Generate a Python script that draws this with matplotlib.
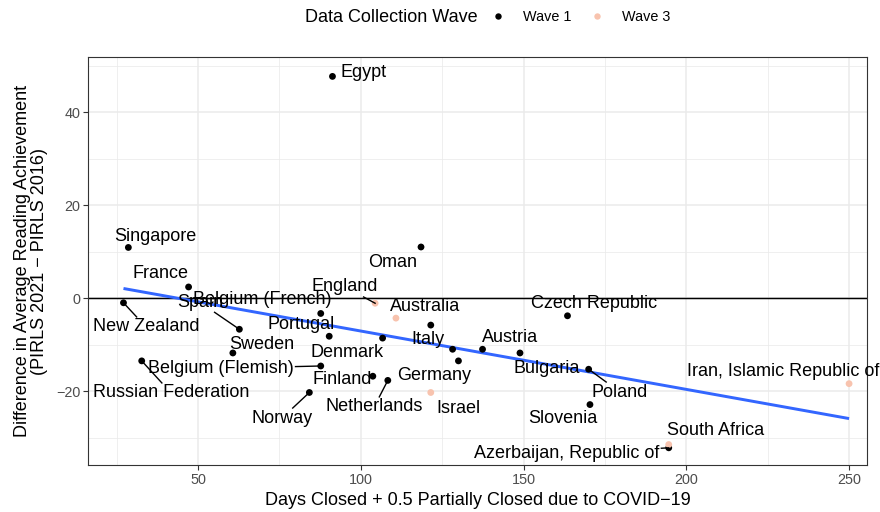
import numpy as np
import matplotlib
matplotlib.use("Agg")
import matplotlib.pyplot as plt
from matplotlib.lines import Line2D

# Countries: days closed (+0.5 partially closed) vs. change in reading score
countries = [
    "Egypt", "Singapore", "France", "New Zealand", "Spain", "Sweden",
    "Russian Federation", "Belgium (Flemish)", "Norway", "Finland",
    "Belgium (French)", "Portugal", "Denmark", "Oman", "England",
    "Australia", "", "Italy", "Germany", "Austria", "Bulgaria",
    "Netherlands", "Israel", "Czech Republic", "Poland", "Slovenia",
    "South Africa", "Azerbaijan, Republic of", "Iran, Islamic Republic of",
]
days_closed = [
    91.3, 28.6, 47.1, 27.1, 62.7, 60.7,
    32.7, 87.7, 84.2, 103.7,
    87.7, 90.3, 106.7, 118.5, 104.4,
    110.8, 121.5, 128.2, 130.0, 137.4, 148.9,
    108.3, 121.5, 163.5, 170.0, 170.4,
    194.6, 194.6, 250.0,
]
score_diff = [
    47.7, 10.9, 2.4, -1.0, -6.7, -11.8,
    -13.5, -14.6, -20.3, -16.8,
    -3.3, -8.2, -8.6, 11.0, -1.1,
    -4.3, -5.8, -11.0, -13.5, -11.0, -11.8,
    -17.7, -20.3, -3.8, -15.3, -22.9,
    -31.5, -32.2, -18.4,
]
wave = [
    1, 1, 1, 1, 1, 1,
    1, 1, 1, 1,
    1, 1, 1, 1, 3,
    3, 1, 1, 1, 1, 1,
    1, 3, 1, 1, 1,
    3, 1, 3,
]
wave_names = {1: "Wave 1", 3: "Wave 3"}
wave_colors = {1: "#000000", 3: "#F8C3AE"}

# Label placement offsets (data units) relative to each point
label_offsets = {
    "Egypt": (9.7, 0.9), "Singapore": (8.2, 2.4), "France": (-8.5, 2.8),
    "New Zealand": (6.9, -5.2), "Spain": (-12.1, 5.8), "Sweden": (9.0, 1.9),
    "Russian Federation": (9.0, -6.9), "Belgium (Flemish)": (-30.6, -0.5),
    "Norway": (-8.4, -5.5), "Finland": (-9.5, -0.6),
    "Belgium (French)": (-18.0, 3.1), "Portugal": (-8.7, 2.6),
    "Denmark": (-10.9, -3.2), "Oman": (-8.6, -3.3), "England": (-9.2, 3.5),
    "Australia": (8.9, 2.6), "Italy": (-7.5, 2.2), "Germany": (-7.5, -3.1),
    "Austria": (8.5, 2.6), "Bulgaria": (8.3, -3.3),
    "Netherlands": (-4.2, -5.7), "Israel": (8.4, -3.4),
    "Czech Republic": (8.1, 2.7), "Poland": (9.6, -4.9),
    "Slovenia": (-8.3, -2.9), "South Africa": (14.5, 3.1),
    "Azerbaijan, Republic of": (-31.2, -1.3),
    "Iran, Islamic Republic of": (-20.3, 2.7),
}
# labels pushed far enough from their point to get a connector
connected = {
    "New Zealand", "Spain", "Russian Federation", "Belgium (Flemish)",
    "Norway", "Netherlands", "England", "Poland", "Azerbaijan, Republic of",
}

plt.rcParams["font.family"] = ["Liberation Sans", "DejaVu Sans"]

fig = plt.figure(figsize=(8.8, 5.12), dpi=100)
ax = fig.add_axes([0.1, 0.0918, 0.8852, 0.7962])

x = np.array(days_closed)
y = np.array(score_diff)
w = np.array(wave)

# grid (theme_bw style)
ax.set_xlim(16.2, 255.5)
ax.set_ylim(-35.9, 51.8)
ax.set_xticks([50, 100, 150, 200, 250])
ax.set_yticks([-20, 0, 20, 40])
ax.set_xticks([25, 75, 125, 175, 225], minor=True)
ax.set_yticks([-30, -10, 10, 30, 50], minor=True)
ax.grid(True, which="major", color="#EBEBEB", lw=1.1, zorder=0)
ax.grid(True, which="minor", color="#EBEBEB", lw=0.55, zorder=0)
ax.set_axisbelow(True)
ax.tick_params(which="minor", length=0)
ax.tick_params(which="major", length=3.5, width=0.8, color="#333333",
               labelsize=10.4, labelcolor="#4D4D4D", pad=2)
for s in ax.spines.values():
    s.set_color("#333333")
    s.set_linewidth(0.8)

# reference line at zero
ax.axhline(0, color="black", lw=1.07, zorder=2)

# linear fit across all countries
slope, intercept = np.polyfit(x, y, 1)
xf = np.array([x.min(), x.max()])
ax.plot(xf, intercept + slope * xf, color="#3366FF", lw=2.13, zorder=3,
        solid_capstyle="butt")

for wv in (1, 3):
    m = w == wv
    ax.scatter(x[m], y[m], s=24, color=wave_colors[wv], edgecolors="none",
               zorder=4)

texts = []
for name, xi, yi in zip(countries, days_closed, score_diff):
    if not name:
        continue
    dx, dy = label_offsets[name]
    t = ax.text(xi + dx, yi + dy, name, fontsize=13, ha="center",
                va="center", color="black", zorder=6, clip_on=False)
    if name in connected:
        texts.append((t, xi, yi))

# connector segments: from each point toward its label centre,
# stopping at the label's (padded) box
fig.canvas.draw()
renderer = fig.canvas.get_renderer()
inv = ax.transData.inverted()
for t, xi, yi in texts:
    bb = t.get_window_extent(renderer)
    pad = 1.5
    bx0, bx1 = bb.x0 - pad, bb.x1 + pad
    by0, by1 = bb.y0 - pad, bb.y1 + pad
    px, py = ax.transData.transform((xi, yi))
    cx, cy = (bx0 + bx1) / 2, (by0 + by1) / 2
    dxp, dyp = cx - px, cy - py
    tx = min((bx0 - px) / dxp, (bx1 - px) / dxp) if dxp != 0 else -np.inf
    ty = min((by0 - py) / dyp, (by1 - py) / dyp) if dyp != 0 else -np.inf
    te = max(tx, ty)
    if te <= 0:
        continue
    ex, ey = px + te * dxp, py + te * dyp
    (x0, y0), (x1, y1) = inv.transform([(px, py), (ex, ey)])
    ax.plot([x0, x1], [y0, y1], color="black", lw=1.0, zorder=5,
            clip_on=False)

ax.set_xlabel("Days Closed + 0.5 Partially Closed due to COVID\u221219",
              fontsize=13, labelpad=4)
ax.set_ylabel("Difference in Average Reading Achievement\n"
              "(PIRLS 2021 \u2212 PIRLS 2016)", fontsize=13, labelpad=6,
              linespacing=0.95)

# legend across the top
fig.text(305 / 880, 1 - 17 / 512, "Data Collection Wave", fontsize=13,
         ha="left", va="center")
handles = [Line2D([], [], marker="o", ls="none", markersize=4.6,
                  markerfacecolor=wave_colors[k], markeredgecolor="none")
           for k in (1, 3)]
fig.legend(handles, [wave_names[k] for k in (1, 3)], ncol=2,
           loc="center left", bbox_to_anchor=(488 / 880, 1 - 17 / 512),
           frameon=False, fontsize=10.4, handlelength=1.4,
           handletextpad=1.0, columnspacing=1.1, borderaxespad=0,
           borderpad=0)

fig.savefig("out.png", dpi=100)
